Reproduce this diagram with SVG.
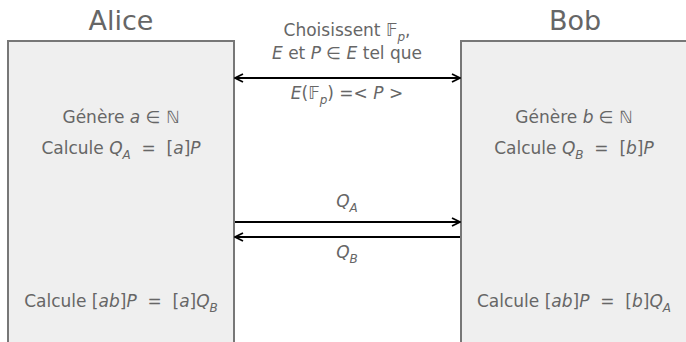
<svg xmlns="http://www.w3.org/2000/svg" width="686" height="342" viewBox="0 0 686 342">
<defs>
<style>
.box{fill:#efefef;stroke:#777;stroke-width:2}
.t{font-family:"DejaVu Sans","Liberation Sans",sans-serif;fill:#666;text-anchor:middle;white-space:pre}
.title{font-size:27px}
.m{font-size:17px}
.i{font-style:italic}
.sub{font-size:12px;font-style:italic}
.c{stroke:#000;stroke-width:2;fill:none}
</style>
<marker id="ah" viewBox="0 0 10 10" refX="9" refY="5" markerWidth="10" markerHeight="10" markerUnits="userSpaceOnUse" orient="auto-start-reverse">
<path d="M1,1 L9,5 L1,9" fill="none" stroke="#000" stroke-width="1.8"/>
</marker>
</defs>
<g id="alice">
<rect class="box" x="8" y="41" width="226" height="320"/>
<text class="t title" x="121" y="30">Alice</text>
<text class="t m" x="121" y="123">Génère <tspan class="i">a</tspan> ∈ ℕ</text>
<text class="t m" x="121" y="154">Calcule <tspan class="i">Q</tspan><tspan class="sub" dy="5">A</tspan><tspan dy="-5">  =  [</tspan><tspan class="i">a</tspan>]<tspan class="i">P</tspan></text>
<text class="t m" x="121" y="307">Calcule [<tspan class="i">ab</tspan>]<tspan class="i">P</tspan>  =  [<tspan class="i">a</tspan>]<tspan class="i">Q</tspan><tspan class="sub" dy="5">B</tspan></text>
</g>
<g id="bob">
<rect class="box" x="461" y="41" width="240" height="320"/>
<text class="t title" x="575" y="30">Bob</text>
<text class="t m" x="574" y="123">Génère <tspan class="i">b</tspan> ∈ ℕ</text>
<text class="t m" x="574" y="154">Calcule <tspan class="i">Q</tspan><tspan class="sub" dy="5">B</tspan><tspan dy="-5">  =  [</tspan><tspan class="i">b</tspan>]<tspan class="i">P</tspan></text>
<text class="t m" x="574" y="307">Calcule [<tspan class="i">ab</tspan>]<tspan class="i">P</tspan>  =  [<tspan class="i">b</tspan>]<tspan class="i">Q</tspan><tspan class="sub" dy="5">A</tspan></text>
</g>
<g id="connectors">
<line class="c" x1="235" y1="78" x2="460" y2="78" marker-start="url(#ah)" marker-end="url(#ah)"/>
<line class="c" x1="235" y1="222" x2="460" y2="222" marker-end="url(#ah)"/>
<line class="c" x1="460" y1="237" x2="235" y2="237" marker-end="url(#ah)"/>
<text class="t m" x="347" y="36">Choisissent <tspan fill="#666">𝔽</tspan><tspan class="sub" dy="5">p</tspan><tspan dy="-5">,</tspan></text>
<text class="t m" x="347" y="59"><tspan class="i">E</tspan> et <tspan class="i">P</tspan> ∈ <tspan class="i">E</tspan> tel que</text>
<text class="t m" x="347" y="99"><tspan class="i">E</tspan>(<tspan fill="#666">𝔽</tspan><tspan class="sub" dy="5">p</tspan><tspan dy="-5">) =&lt; </tspan><tspan class="i">P</tspan> &gt;</text>
<text class="t m" x="347" y="207"><tspan class="i">Q</tspan><tspan class="sub" dy="5">A</tspan></text>
<text class="t m" x="347" y="258"><tspan class="i">Q</tspan><tspan class="sub" dy="5">B</tspan></text>
</g>
</svg>
